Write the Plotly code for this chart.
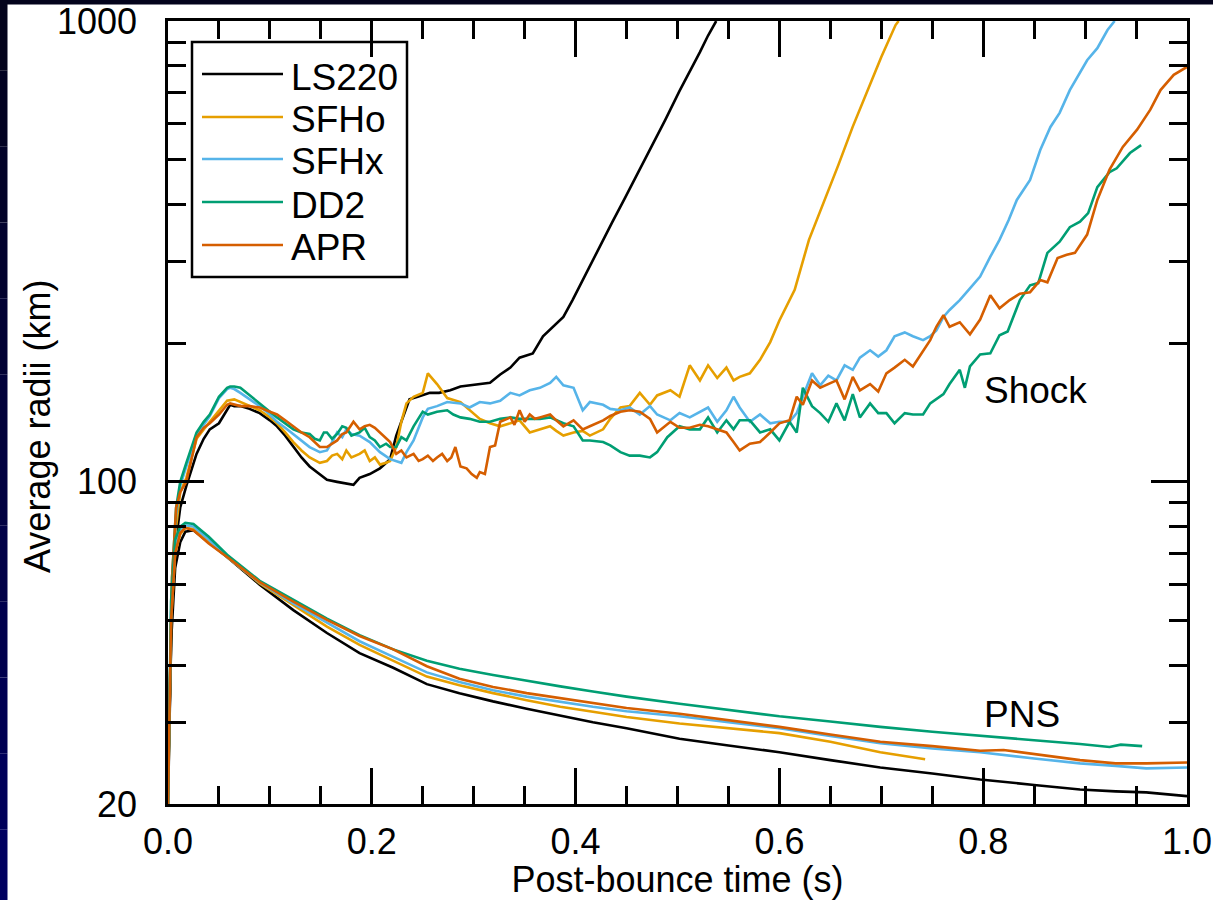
import plotly.graph_objects as go

# ---------------- data (post-bounce time in s, radius in km) ----------------
models = ["LS220", "SFHo", "SFHx", "DD2", "APR"]
colors = ["#000000", "#E69F00", "#56B4E9", "#009E73", "#D55E00"]

# Shock radii
t_shock_ls220 = [0, 0.004, 0.008, 0.012, 0.018, 0.028, 0.035, 0.041, 0.05, 0.058, 0.061, 0.065, 0.071, 0.08,
                 0.09, 0.1, 0.107, 0.115, 0.123, 0.131, 0.139, 0.149, 0.156, 0.166, 0.175, 0.182, 0.188, 0.198,
                 0.208, 0.218, 0.224, 0.230, 0.237, 0.245, 0.257, 0.266, 0.277, 0.287, 0.296, 0.306, 0.316, 0.326,
                 0.336, 0.345, 0.358, 0.368, 0.378, 0.388, 0.397, 0.41, 0.424, 0.436, 0.448, 0.46, 0.473, 0.488,
                 0.502, 0.512, 0.522, 0.530, 0.538]
r_shock_ls220 = [22, 55, 75, 88, 98, 115, 124, 130, 134, 143, 147, 146, 146, 144,
                 141, 136, 132, 126, 119, 113, 108, 104, 101, 100, 99, 98.5, 102, 104,
                 107, 112, 126, 137, 151, 153, 156, 156, 158, 161, 162, 163, 164, 171,
                 177, 186, 190, 207, 217, 228, 248, 283, 324, 366, 411, 462, 525, 610,
                 705, 775, 856, 930, 1000]

t_shock_sfho = [0, 0.004, 0.008, 0.012, 0.018, 0.028, 0.035, 0.041, 0.05, 0.058, 0.065, 0.071, 0.08, 0.09, 0.1,
                0.107, 0.115, 0.123, 0.131, 0.139, 0.149, 0.156, 0.161, 0.166, 0.171, 0.175, 0.18, 0.188, 0.193,
                0.198, 0.203, 0.208, 0.214, 0.218, 0.224, 0.229, 0.234, 0.241, 0.25, 0.255, 0.264, 0.274, 0.287,
                0.296, 0.306, 0.316, 0.326, 0.336, 0.345, 0.355, 0.365, 0.375, 0.381, 0.388, 0.398, 0.407, 0.414,
                0.427, 0.434, 0.444, 0.453, 0.463, 0.473, 0.480, 0.493, 0.502, 0.512, 0.522, 0.530, 0.539, 0.548,
                0.555, 0.561, 0.571, 0.581, 0.591, 0.600, 0.615, 0.629, 0.644, 0.658, 0.672, 0.687, 0.700, 0.714,
                0.717]
r_shock_sfho = [22, 58, 80, 95, 102, 124, 130, 135, 143, 150, 151, 149, 146, 143, 138,
                134, 128, 122, 117, 113, 110, 111, 114, 115, 112, 117, 113, 115, 117,
                111, 113, 109, 110, 111, 119, 135, 148, 153, 156, 172, 163, 152, 149,
                143, 137, 134, 132, 134, 136, 128, 130, 132, 129, 126, 128, 129, 126,
                130, 137, 145, 146, 156, 147, 154, 158, 153, 179, 166, 179, 168, 177,
                166, 169, 172, 184, 201, 224, 261, 335, 405, 488, 590, 708, 835, 980,
                1000]

t_shock_sfhx = [0, 0.004, 0.008, 0.012, 0.018, 0.028, 0.035, 0.041, 0.05, 0.058, 0.061, 0.065, 0.071, 0.08,
                0.09, 0.1, 0.107, 0.115, 0.123, 0.131, 0.139, 0.149, 0.156, 0.161, 0.166, 0.171, 0.175, 0.18,
                0.188, 0.198, 0.208, 0.218, 0.224, 0.229, 0.234, 0.241, 0.25, 0.255, 0.264, 0.274, 0.287, 0.296,
                0.306, 0.316, 0.326, 0.336, 0.345, 0.355, 0.365, 0.375, 0.381, 0.388, 0.398, 0.407, 0.414, 0.427,
                0.434, 0.444, 0.453, 0.463, 0.473, 0.480, 0.493, 0.502, 0.512, 0.522, 0.530, 0.539, 0.548, 0.555,
                0.561, 0.571, 0.581, 0.591, 0.600, 0.610, 0.617, 0.623, 0.632, 0.640, 0.648, 0.656, 0.664, 0.672,
                0.679, 0.689, 0.697, 0.705, 0.713, 0.723, 0.731, 0.741, 0.748, 0.754, 0.761, 0.767, 0.777, 0.787,
                0.797, 0.807, 0.816, 0.825, 0.833, 0.846, 0.856, 0.866, 0.875, 0.885, 0.893, 0.902, 0.912, 0.922,
                0.929]
r_shock_sfhx = [22, 60, 85, 98, 108, 126, 133, 139, 152, 159, 160, 159, 156, 151,
                146, 140, 135, 131, 127, 123, 119, 116, 117, 122, 128, 125, 130, 127,
                126, 122, 116, 112, 111, 110, 116, 123, 138, 144, 146, 149, 148, 145,
                149, 148, 150, 156, 154, 158, 160, 164, 169, 162, 160, 143, 149, 147,
                144, 143, 145, 140, 146, 140, 136, 141, 138, 142, 145, 135, 143, 153,
                145, 135, 140, 134, 135, 135, 141, 153, 172, 162, 170, 166, 179, 175,
                186, 193, 187, 193, 207, 211, 207, 203, 207, 213, 228, 236, 248, 263,
                279, 308, 335, 370, 409, 452, 525, 589, 632, 708, 760, 822, 873, 956,
                1000]

t_shock_dd2 = [0, 0.004, 0.008, 0.012, 0.018, 0.028, 0.035, 0.041, 0.05, 0.058, 0.061, 0.065, 0.071, 0.08,
               0.09, 0.1, 0.107, 0.115, 0.123, 0.131, 0.139, 0.144, 0.149, 0.153, 0.156, 0.161, 0.166, 0.171,
               0.175, 0.18, 0.188, 0.193, 0.198, 0.203, 0.208, 0.214, 0.218, 0.224, 0.229, 0.234, 0.241, 0.25,
               0.255, 0.264, 0.274, 0.28, 0.287, 0.296, 0.306, 0.316, 0.326, 0.336, 0.345, 0.355, 0.365, 0.375,
               0.381, 0.388, 0.398, 0.407, 0.414, 0.427, 0.434, 0.444, 0.453, 0.463, 0.473, 0.480, 0.490, 0.502,
               0.512, 0.522, 0.530, 0.539, 0.548, 0.555, 0.561, 0.571, 0.581, 0.591, 0.600, 0.610, 0.617, 0.623,
               0.632, 0.640, 0.648, 0.656, 0.664, 0.672, 0.679, 0.689, 0.697, 0.705, 0.713, 0.723, 0.731, 0.741,
               0.748, 0.754, 0.761, 0.767, 0.777, 0.782, 0.787, 0.797, 0.807, 0.816, 0.824, 0.836, 0.846, 0.854,
               0.863, 0.875, 0.885, 0.895, 0.903, 0.912, 0.924, 0.931, 0.944, 0.955]
r_shock_dd2 = [22, 62, 88, 100, 110, 128, 135, 140, 153, 160, 161, 161, 160, 154,
               148, 142, 138, 134, 130, 128, 127, 124, 123, 128, 128, 124, 127, 132,
               131, 126, 128, 131, 125, 123, 119, 121, 119, 119, 125, 123, 132, 142,
               140, 142, 143, 140, 138, 137, 135, 135, 137, 138, 137, 137, 137, 138,
               136, 134, 132, 123, 123, 122, 120, 116, 114, 114, 113, 116, 125, 132,
               130, 130, 138, 128, 136, 130, 136, 136, 128, 130, 123, 135, 128, 160,
               146, 141, 135, 148, 136, 155, 138, 148, 141, 141, 134, 141, 140, 140,
               148, 151, 155, 163, 175, 160, 178, 189, 190, 208, 212, 248, 267, 270,
               314, 332, 357, 367, 383, 436, 470, 479, 517, 538]

t_shock_apr = [0, 0.004, 0.008, 0.012, 0.018, 0.028, 0.035, 0.041, 0.05, 0.058, 0.061, 0.065, 0.071, 0.08,
               0.09, 0.1, 0.107, 0.115, 0.123, 0.131, 0.139, 0.149, 0.156, 0.161, 0.166, 0.171, 0.175, 0.182,
               0.188, 0.193, 0.198, 0.203, 0.208, 0.213, 0.218, 0.224, 0.229, 0.234, 0.241, 0.246, 0.25, 0.255,
               0.26, 0.264, 0.269, 0.274, 0.278, 0.282, 0.287, 0.293, 0.298, 0.303, 0.306, 0.311, 0.316, 0.321,
               0.326, 0.336, 0.34, 0.345, 0.35, 0.355, 0.36, 0.365, 0.375, 0.381, 0.388, 0.398, 0.407, 0.414,
               0.427, 0.434, 0.444, 0.453, 0.463, 0.473, 0.480, 0.493, 0.502, 0.512, 0.522, 0.530, 0.548, 0.555,
               0.561, 0.571, 0.581, 0.591, 0.600, 0.610, 0.617, 0.623, 0.632, 0.640, 0.648, 0.656, 0.664, 0.672,
               0.679, 0.689, 0.697, 0.705, 0.713, 0.723, 0.731, 0.741, 0.748, 0.754, 0.761, 0.767, 0.777, 0.787,
               0.797, 0.807, 0.816, 0.826, 0.836, 0.846, 0.856, 0.863, 0.873, 0.882, 0.890, 0.902, 0.912, 0.924,
               0.937, 0.951, 0.964, 0.974, 0.987, 1.0]
r_shock_apr = [22, 62, 88, 95, 100, 125, 131, 134, 140, 147, 148, 147, 146, 146,
               145, 142, 140, 136, 132, 128, 125, 119, 119, 121, 123, 127, 128, 135,
               130, 132, 133, 131, 128, 125, 122, 115, 117, 113, 115, 111, 112, 114,
               111, 113, 115, 111, 113, 119, 108, 107, 104, 102, 105, 104, 119, 120,
               135, 138, 133, 143, 135, 140, 137, 138, 140, 136, 132, 136, 130, 132,
               136, 139, 142, 143, 142, 137, 128, 135, 131, 131, 133, 132, 128, 122,
               117, 121, 122, 128, 134, 136, 153, 147, 166, 160, 163, 166, 151, 169,
               158, 163, 157, 172, 177, 184, 178, 193, 203, 217, 230, 217, 222, 209,
               225, 254, 238, 248, 256, 258, 274, 271, 306, 311, 314, 344, 409, 476,
               533, 581, 642, 708, 764, 795]

# Proto-neutron-star (PNS) radii
t_pns_ls220 = [0, 0.003, 0.007, 0.012, 0.017, 0.025, 0.04, 0.058, 0.09, 0.123, 0.156, 0.188, 0.221, 0.254,
               0.286, 0.319, 0.352, 0.385, 0.417, 0.450, 0.502, 0.550, 0.600, 0.650, 0.699, 0.750, 0.797, 0.850,
               0.895, 0.930, 0.960, 1.0]
r_pns_ls220 = [20, 45, 65, 74, 78, 78.5, 74, 68.7, 59.8, 52.7, 47, 42.5, 39.5, 36.4,
               34.8, 33.4, 32.2, 31.1, 30.1, 29.2, 27.7, 26.8, 25.9, 24.9, 24.0, 23.3, 22.6, 22.0,
               21.5, 21.3, 21.2, 20.8]
t_pns_sfho = [0, 0.003, 0.007, 0.012, 0.017, 0.025, 0.04, 0.058, 0.09, 0.123, 0.156, 0.188, 0.221, 0.254,
              0.286, 0.319, 0.352, 0.385, 0.417, 0.450, 0.502, 0.550, 0.600, 0.650, 0.699, 0.743]
r_pns_sfho = [20, 50, 70, 77, 79.5, 79, 74.5, 68.7, 60.2, 54, 48.5, 44.3, 40.9, 37.8,
              36.2, 34.8, 33.6, 32.5, 31.7, 30.9, 29.9, 29.2, 28.5, 27.3, 25.9, 25.0]
t_pns_sfhx = [0, 0.003, 0.007, 0.012, 0.017, 0.025, 0.04, 0.058, 0.09, 0.123, 0.156, 0.188, 0.221, 0.254,
              0.286, 0.319, 0.352, 0.385, 0.417, 0.450, 0.502, 0.550, 0.600, 0.650, 0.699, 0.750, 0.797, 0.850,
              0.895, 0.930, 0.960, 1.0]
r_pns_sfhx = [20, 52, 72, 78.5, 80.5, 80, 75, 68.7, 60.5, 54.5, 49.5, 45.1, 41.7, 38.6,
              36.8, 35.3, 34.2, 33.3, 32.5, 31.8, 31.0, 30.1, 29.2, 28.1, 27.1, 26.4, 25.9, 25.1,
              24.5, 24.2, 23.9, 24.0]
t_pns_dd2 = [0, 0.003, 0.007, 0.012, 0.017, 0.025, 0.04, 0.058, 0.09, 0.123, 0.156, 0.188, 0.221, 0.254,
             0.286, 0.319, 0.352, 0.385, 0.417, 0.450, 0.502, 0.550, 0.600, 0.650, 0.699, 0.750, 0.797, 0.850,
             0.895, 0.924, 0.935, 0.956]
r_pns_dd2 = [20, 55, 75, 80, 81.5, 81, 76, 69.5, 61, 55.5, 50.5, 46.5, 43.3, 40.9,
             39.3, 38.1, 37.0, 36.0, 35.1, 34.2, 33.0, 32.0, 31.0, 30.2, 29.4, 28.7, 28.1, 27.5,
             27.0, 26.6, 26.9, 26.7]
t_pns_apr = [0, 0.003, 0.007, 0.012, 0.017, 0.025, 0.04, 0.058, 0.09, 0.123, 0.156, 0.188, 0.221, 0.254,
             0.286, 0.319, 0.352, 0.385, 0.417, 0.450, 0.502, 0.550, 0.600, 0.650, 0.699, 0.750, 0.797, 0.820,
             0.850, 0.895, 0.930, 0.960, 1.0]
r_pns_apr = [20, 50, 70, 77.5, 79.5, 78.5, 73.5, 68.7, 60.6, 55, 50.2, 46.3, 43.3, 39.8,
             37.4, 35.9, 34.8, 33.9, 33.1, 32.3, 31.4, 30.4, 29.4, 28.3, 27.3, 26.7, 26.1, 26.2,
             25.7, 24.9, 24.5, 24.5, 24.6]

shock_t = [t_shock_ls220, t_shock_sfho, t_shock_sfhx, t_shock_dd2, t_shock_apr]
shock_r = [r_shock_ls220, r_shock_sfho, r_shock_sfhx, r_shock_dd2, r_shock_apr]
pns_t = [t_pns_ls220, t_pns_sfho, t_pns_sfhx, t_pns_dd2, t_pns_apr]
pns_r = [r_pns_ls220, r_pns_sfho, r_pns_sfhx, r_pns_dd2, r_pns_apr]

x_major = [0.0, 0.2, 0.4, 0.6, 0.8, 1.0]
y_major = [20, 100, 1000]
y_minor = [30, 40, 50, 60, 70, 80, 90, 200, 300, 400, 500, 600, 700, 800, 900]

# ---------------- figure ----------------
W, H = 1213, 900
ML, MR, MT, MB = 168, 26, 21, 96
PW, PH = W - ML - MR, H - MT - MB
FONT = "Liberation Sans, Arial, Helvetica, sans-serif"


def px_x(px):
    return (px - ML) / PW


def px_y(py):
    return (H - MB - py) / PH


fig = go.Figure()
for i, name in enumerate(models):
    fig.add_trace(go.Scatter(x=shock_t[i], y=shock_r[i], mode="lines", name=name,
                             line=dict(color=colors[i], width=2.6), showlegend=False))
for i, name in enumerate(models):
    fig.add_trace(go.Scatter(x=pns_t[i], y=pns_r[i], mode="lines", name=name + " PNS",
                             line=dict(color=colors[i], width=2.6), showlegend=False))

shapes = []
annotations = []

# manual legend (long line samples, boxed)
shapes.append(dict(type="rect", xref="paper", yref="paper", x0=px_x(192), x1=px_x(407),
                   y0=px_y(277), y1=px_y(42), line=dict(color="black", width=2.5),
                   fillcolor="rgba(0,0,0,0)", layer="above"))
leg_py = [74, 117, 159, 202, 245]
for i, name in enumerate(models):
    shapes.append(dict(type="line", xref="paper", yref="paper", x0=px_x(202), x1=px_x(283),
                       y0=px_y(leg_py[i]), y1=px_y(leg_py[i]),
                       line=dict(color=colors[i], width=2.6), layer="above"))
    annotations.append(dict(text=name, xref="paper", yref="paper", x=px_x(289), y=px_y(leg_py[i] + 3),
                            xanchor="left", yanchor="middle", showarrow=False,
                            font=dict(size=37, color="black", family=FONT)))

annotations.append(dict(text="Shock", xref="paper", yref="paper", x=px_x(982), y=px_y(390),
                        xanchor="left", yanchor="middle", showarrow=False,
                        font=dict(size=37, color="black", family=FONT)))
annotations.append(dict(text="PNS", xref="paper", yref="paper", x=px_x(982), y=px_y(714),
                        xanchor="left", yanchor="middle", showarrow=False,
                        font=dict(size=37, color="black", family=FONT)))
# y-axis title (slightly below the plot centre, as in the original)
annotations.append(dict(text="Average radii (km)", xref="paper", yref="paper", x=px_x(37), y=px_y(427),
                        xanchor="center", yanchor="middle", textangle=-90, showarrow=False,
                        font=dict(size=36, color="black", family=FONT)))

# dark slide frame (top band and left strip with blue gradient)
shapes.append(dict(type="rect", xref="paper", yref="paper", x0=px_x(-5), x1=px_x(W + 5),
                   y0=px_y(4.5), y1=px_y(-5), line=dict(width=0), fillcolor="#03031c", layer="above"))
n_strip = 12
for k in range(n_strip):
    f = k / (n_strip - 1)
    b = int(28 + (96 - 28) * f)
    g = int(3 * (1 - f))
    y_top = -5 + (H + 10) * k / n_strip
    y_bot = -5 + (H + 10) * (k + 1) / n_strip
    shapes.append(dict(type="rect", xref="paper", yref="paper", x0=px_x(-5), x1=px_x(7.5),
                       y0=px_y(y_bot), y1=px_y(y_top), line=dict(width=0),
                       fillcolor=f"rgb({g},{g},{b})", layer="above"))

axis_common = dict(showline=True, linecolor="black", linewidth=2.6, mirror="ticks",
                   ticks="inside", tickcolor="black", tickwidth=2.6, ticklen=36,
                   showgrid=False, zeroline=False,
                   tickfont=dict(size=36, color="black", family=FONT))

fig.update_xaxes(range=[0, 1.0], tickmode="array", tickvals=x_major,
                 ticktext=[f"{v:.1f}" for v in x_major], ticklabelstandoff=4,
                 minor=dict(ticks="inside", ticklen=18, tickwidth=2.6, tickcolor="black",
                            dtick=0.05, tick0=0, showgrid=False),
                 title=dict(text="Post-bounce time (s)", font=dict(size=36, color="black", family=FONT),
                            standoff=19),
                 automargin=False, **axis_common)
fig.update_yaxes(type="log", range=[1.30103, 3.0], tickmode="array", tickvals=y_major,
                 ticktext=[str(v) for v in y_major], ticklabelstandoff=21,
                 minor=dict(ticks="inside", ticklen=18, tickwidth=2.6, tickcolor="black",
                            tickmode="array", tickvals=y_minor, showgrid=False),
                 automargin=False, **axis_common)

fig.update_layout(width=W, height=H, margin=dict(l=ML, r=MR, t=MT, b=MB, pad=0),
                  paper_bgcolor="white", plot_bgcolor="white",
                  font=dict(family=FONT, color="black"),
                  shapes=shapes, annotations=annotations, showlegend=False)

fig.write_html("out.html", config={"displayModeBar": False},
               post_script="document.body.style.margin='0';document.body.style.overflow='hidden';")
